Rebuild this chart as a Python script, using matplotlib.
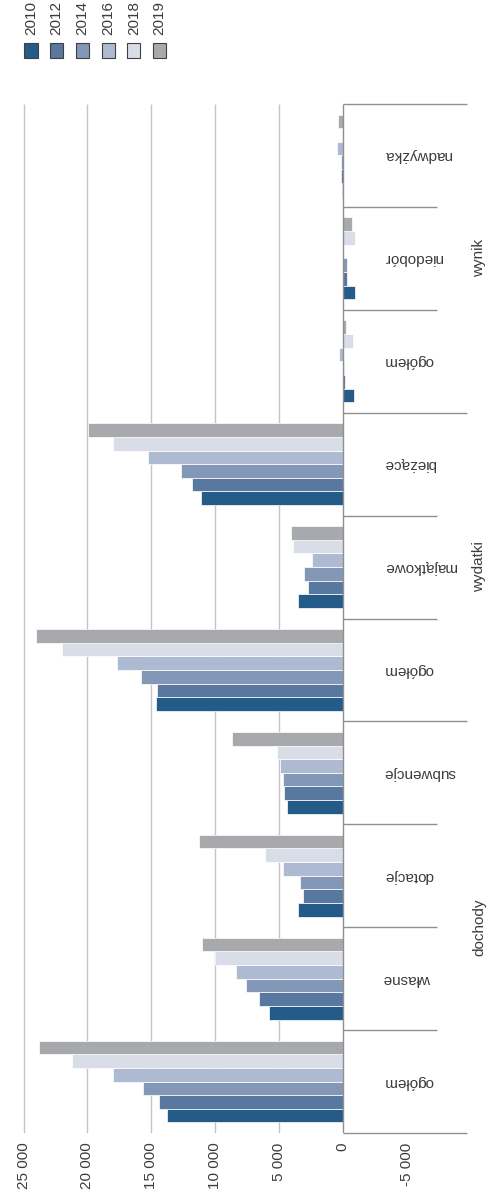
import matplotlib
matplotlib.use('Agg')
import matplotlib.pyplot as plt
from matplotlib.patches import Rectangle
import numpy as np

plt.rcParams['font.family'] = ['Liberation Sans', 'DejaVu Sans']

years = ['2010', '2012', '2014', '2016', '2018', '2019']
colors = ['#255b89', '#5878a0', '#8398b7', '#adbad2', '#d8dde8', '#a8a9ac']

categories = ['ogółem', 'własne', 'dotacje', 'subwencje',
              'ogółem', 'majątkowe', 'bieżące',
              'ogółem', 'niedobór', 'nadwyżka']
groups = ['dochody', 'wydatki', 'wynik']
group_first = [0, 4, 7]
group_last = [3, 6, 9]

# values per year, in category order (bottom to top of the picture)
v2010 = [13790, 5800, 3530, 4370, 14650, 3530, 11080, -860, -940, 60]
v2012 = [14400, 6560, 3140, 4620, 14580, 2740, 11790, -180, -310, 100]
v2014 = [15670, 7580, 3350, 4680, 15810, 3060, 12700, -130, -330, 100]
v2016 = [18030, 8360, 4700, 4910, 17710, 2380, 15260, 310, -60, 450]
v2018 = [21240, 9980, 6090, 5150, 22000, 3920, 18030, -780, -960, 20]
v2019 = [23780, 11000, 11290, 8650, 24040, 4050, 19940, -260, -710, 390]
series = [v2010, v2012, v2014, v2016, v2018, v2019]

tick_vals = [-5000, 0, 5000, 10000, 15000, 20000, 25000]
tick_labels = ['-5 000', '0', '5 000', '10 000', '15 000', '20 000', '25 000']

W, H = 489, 1194
txt = '#3c3c3c'

# pixel -> value along the (horizontal) value axis
x0, scale = 342.7, 0.012763
def v(px):
    return (x0 - px) / scale

fig = plt.figure(figsize=(W / 100, H / 100), dpi=100)
ax = fig.add_axes([0, 61 / H, 1, 1029 / H])
ax.set_xlim(v(0), v(W))
ax.set_ylim(-0.5, len(categories) - 0.5)

ypos = np.arange(len(categories))
h = 0.1325
for j, (vals, c) in enumerate(zip(series, colors)):
    ax.barh(ypos + (j - 2.5) * h, vals, height=h, color=c,
            edgecolor='white', linewidth=0.5, zorder=3)

# gridlines
for t in range(5000, 25001, 5000):
    ax.vlines(t, -0.5, len(categories) - 0.5, color='#c4c4c4', lw=1, zorder=1)
ax.vlines(0, -0.5, len(categories) - 0.5, color='#8f8f8f', lw=1, zorder=4)

# category separators
for k in range(len(categories) + 1):
    end = v(467) if (k in group_first or k == len(categories)) else v(437)
    ax.hlines(k - 0.5, 0, end, color='#8f8f8f', lw=1, zorder=4, clip_on=False)

for i, name in enumerate(categories):
    ax.text(v(384), i, name, rotation=180, ha='left', va='center',
            fontsize=11, color=txt)

for g, a, b in zip(groups, group_first, group_last):
    ax.text(v(479), (a + b) / 2, g, rotation=90, ha='center', va='center',
            fontsize=11, color=txt)

ax.set_xticks(tick_vals)
ax.set_xticklabels(tick_labels, rotation=90)
ax.tick_params(axis='x', length=0, pad=7, labelsize=11, labelcolor=txt)
ax.set_yticks([])
for s in ax.spines.values():
    s.set_visible(False)

# legend
for j, (yr, c) in enumerate(zip(years, colors)):
    cx = 31 + j * 25.7
    fig.add_artist(Rectangle(((cx - 6.5) / W, 1 - 58 / H), 13 / W, 15 / H,
                             transform=fig.transFigure, facecolor=c,
                             edgecolor='#404040', lw=0.8))
    fig.text(cx / W, 1 - 35 / H, yr, rotation=90, ha='center', va='bottom',
             fontsize=11, color=txt)

fig.savefig('out.png', dpi=100)
